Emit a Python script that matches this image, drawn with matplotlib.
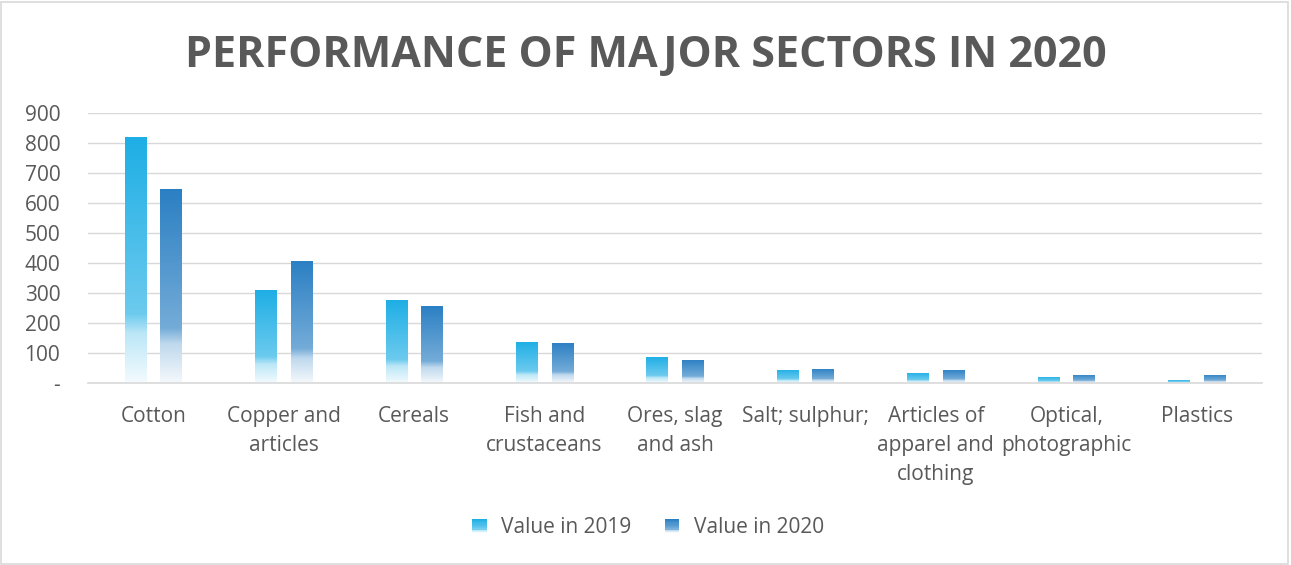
"""Performance of major sectors in 2020: grouped gradient bars, Excel look."""

import matplotlib

matplotlib.use("Agg")
import matplotlib.pyplot as plt
import numpy as np
from matplotlib.colors import to_rgb
from matplotlib.legend_handler import HandlerBase
from matplotlib.patches import Rectangle

CATEGORIES = [
    "Cotton",
    "Copper and\narticles",
    "Cereals",
    "Fish and\ncrustaceans",
    "Ores, slag\nand ash",
    "Salt; sulphur;",
    "Articles of\napparel and\nclothing",
    "Optical,\nphotographic",
    "Plastics",
]
VALUE_2019 = [819, 310, 277, 137, 87, 44, 34, 21, 10]
VALUE_2020 = [646, 407, 257, 134, 77, 48, 44, 27, 27]
SERIES_NAMES = ["Value in 2019", "Value in 2020"]
Y_TICKS = [0, 100, 200, 300, 400, 500, 600, 700, 800, 900]

COLORS = ["#1DAEE5", "#2A7FC3"]
TEXT = "#595959"
GRID = "#D9D9D9"
FONT = "Open Sans"


def gradient_rgba(color, n=256):
    """Column of colours: full at the top, paler, then white at the base."""
    c = np.array(to_rgb(color))
    w = np.ones(3)
    t = np.linspace(0, 1, n)  # 0 = top, 1 = bottom
    # amount of white mixed in
    mix = np.interp(t, [0.0, 0.72, 0.80, 1.0], [0.0, 0.35, 0.70, 0.95])
    rgb = c[None, :] * (1 - mix[:, None]) + w[None, :] * mix[:, None]
    return rgb[:, None, :]


def gradient_bars(ax, x, heights, width, color):
    bars = ax.bar(x, heights, width, color="none", edgecolor="none")
    img = gradient_rgba(color)
    for b in bars:
        x0, y0 = b.get_x(), b.get_y()
        im = ax.imshow(
            img,
            extent=(x0, x0 + b.get_width(), y0, y0 + b.get_height()),
            aspect="auto",
            interpolation="bilinear",
            zorder=2,
        )
        im.set_clip_path(b)
    return bars


class GradientHandler(HandlerBase):
    def __init__(self, color):
        super().__init__()
        self.color = color

    def create_artists(self, legend, orig, xd, yd, w, h, fs, trans):
        img = gradient_rgba(self.color, 12)[:, 0, :]
        side = h * 1.0
        x0 = xd + w - side
        n = len(img)
        arts = []
        for i, c in enumerate(img):
            r = Rectangle(
                (x0, yd + side * (n - 1 - i) / n),
                side,
                side / n,
                facecolor=c,
                edgecolor="none",
                transform=trans,
            )
            arts.append(r)
        return arts


fig = plt.figure(figsize=(12.91, 5.65), dpi=100)
ax = fig.add_axes([0.0682, 0.3216, 0.9093, 0.4789])

x = np.arange(len(CATEGORIES))
bw = 0.165
off = 0.136
b1 = gradient_bars(ax, x - off, VALUE_2019, bw, COLORS[0])
b2 = gradient_bars(ax, x + off, VALUE_2020, bw, COLORS[1])

ax.set_xlim(-0.5, len(CATEGORIES) - 0.5)
ax.set_ylim(0, 900)
ax.set_yticks(Y_TICKS)
ax.set_yticklabels(["-" if v == 0 else str(v) for v in Y_TICKS])
ax.set_xticks(x)
ax.set_xticklabels(CATEGORIES, linespacing=1.52, va="top")
ax.grid(axis="y", color=GRID, lw=1.0, zorder=0)
ax.set_axisbelow(True)
for s in ["top", "right", "left"]:
    ax.spines[s].set_visible(False)
ax.spines["bottom"].set_color(GRID)
ax.spines["bottom"].set_linewidth(1.2)
ax.tick_params(length=0, colors=TEXT, labelsize=15)
ax.tick_params(axis="x", pad=16)
ax.tick_params(axis="y", pad=20)
for lab in ax.get_xticklabels() + ax.get_yticklabels():
    lab.set_fontfamily(FONT)
for lab in ax.get_yticklabels():
    lab.set_horizontalalignment("right")

fig.text(
    0.5,
    0.902,
    "PERFORMANCE OF MAJOR SECTORS IN 2020",
    ha="center",
    va="center",
    fontsize=31,
    fontweight="bold",
    color=TEXT,
    fontfamily=FONT,
)

leg = fig.legend(
    [b1, b2],
    SERIES_NAMES,
    handler_map={b1: GradientHandler(COLORS[0]), b2: GradientHandler(COLORS[1])},
    loc="center",
    bbox_to_anchor=(0.502, 0.066),
    ncol=2,
    frameon=False,
    handlelength=0.7,
    handleheight=0.7,
    handletextpad=0.7,
    columnspacing=1.6,
    prop={"family": FONT, "size": 15},
)
for t in leg.get_texts():
    t.set_color(TEXT)

fig.patches.append(
    Rectangle(
        (0.001, 0.002),
        0.997,
        0.994,
        transform=fig.transFigure,
        facecolor="none",
        edgecolor=GRID,
        lw=1.2,
    )
)

fig.savefig("out.png", dpi=100)
